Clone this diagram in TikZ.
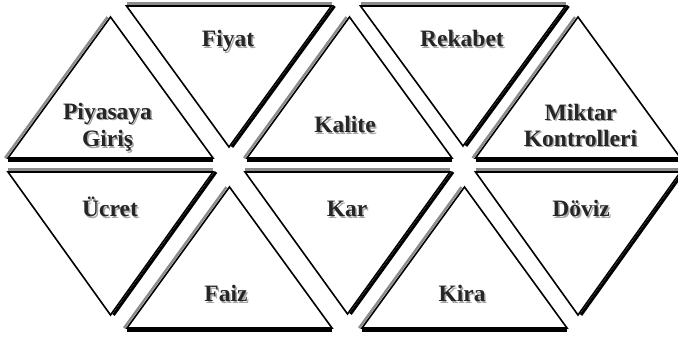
\documentclass[tikz,border=0pt]{standalone}
\usepackage{fontspec}
\setmainfont{Liberation Serif}
\usepackage{xcolor}
\usepackage{tikz}

% word with a soft grey drop shadow
\newcommand\shadedword[1]{\rlap{\kern1.5pt\raisebox{-1.5pt}{\textcolor{black!35}{#1}}}#1}

\begin{document}
\begin{tikzpicture}[
  x=1pt, y=-1pt,
  edge/.style={draw=black, line width=1.6pt, line join=miter},
  darkrim/.style={black, line width=3pt},
  greyrim/.style={black!45, line width=2.4pt},
  lbl/.style={font=\fontsize{23.5}{26}\selectfont\bfseries, text=black!85,
              align=center, inner sep=0pt}
]
\useasboundingbox (0,0) rectangle (678,339);
% triangles pointing up: centre x / apex y / base y
\foreach \cx/\ty/\by in {110.5/17/158, 349.5/17/158, 578/17/158,
                         229.5/187/328, 464.5/187/328} {
  \draw[greyrim] ({\cx-105.5},\by) -- ({\cx-3},\ty);
  \draw[darkrim] ({\cx-102.5},\by+2.6) -- ({\cx+102.5},\by+2.6);
  \draw[edge] ({\cx-102.5},\by) -- (\cx,\ty) -- ({\cx+102.5},\by) -- cycle;
}
% triangles pointing down: centre x / top y / apex y
\foreach \cx/\ty/\ay in {229/6/147, 463/6/146,
                         110.5/172/315, 347.5/172/314, 578/172/315} {
  \draw[greyrim] ({\cx-102.5},\ty-2.6) -- ({\cx+102.5},\ty-2.6);
  \draw[darkrim] ({\cx+105.5},\ty) -- ({\cx+3},\ay);
  \draw[edge] ({\cx-102.5},\ty) -- ({\cx+102.5},\ty) -- (\cx,\ay) -- cycle;
}
% top row labels
\node[lbl] (giris) at (107.5,128) {\shadedword{Piyasaya}\\[1.5pt]\shadedword{Giriş}};
\node[lbl, anchor=base] (fiyat) at (228,47) {\shadedword{Fiyat}};
\node[lbl, anchor=base] (kalite) at (345,133) {\shadedword{Kalite}};
\node[lbl, anchor=base] (rekabet) at (462,47) {\shadedword{Rekabet}};
\node[lbl] (miktar) at (580.5,126) {\shadedword{Miktar}\\\shadedword{Kontrolleri}};
% bottom row labels
\node[lbl, anchor=base] (ucret) at (110,217) {\shadedword{Ücret}};
\node[lbl, anchor=base] (faiz) at (226,302) {\shadedword{Faiz}};
\node[lbl, anchor=base] (kar) at (347,217) {\shadedword{Kar}};
\node[lbl, anchor=base] (kira) at (462,302) {\shadedword{Kira}};
\node[lbl, anchor=base] (doviz) at (581,217) {\shadedword{Döviz}};
\end{tikzpicture}
\end{document}
